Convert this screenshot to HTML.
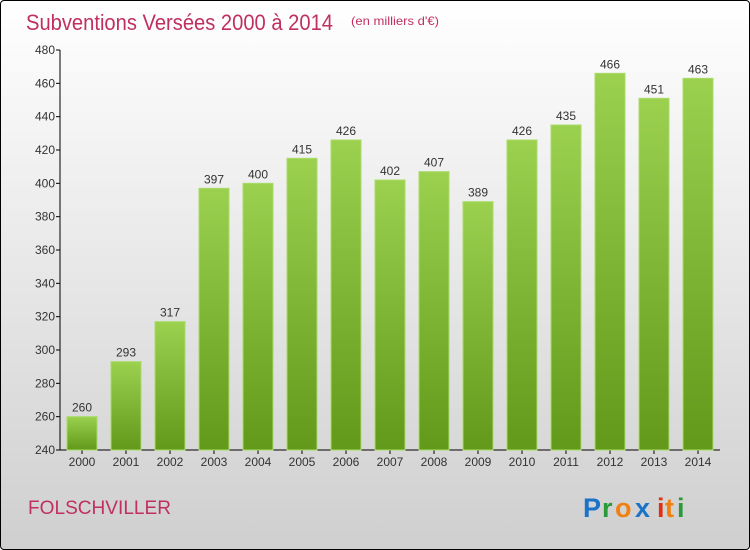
<!DOCTYPE html>
<html><head><meta charset="utf-8"><style>
body{margin:0;width:750px;height:550px;overflow:hidden;font-family:"Liberation Sans",sans-serif}
#c{position:absolute;left:0;top:0;width:748px;height:548px;border:1px solid #000;border-radius:4px;background:linear-gradient(#ffffff,#cfcfcf)}
</style></head><body>
<div id="c"></div>
<svg width="750" height="550" style="position:absolute;left:0;top:0">
<defs><linearGradient id="g" x1="0" y1="0" x2="0" y2="1"><stop offset="0" stop-color="#9bd14f"/><stop offset="1" stop-color="#62991a"/></linearGradient></defs>
<text x="26" y="30" font-size="22" fill="#c0305f" textLength="307" lengthAdjust="spacingAndGlyphs">Subventions Versées 2000 à 2014</text>
<text x="351" y="25" font-size="12" fill="#c0305f" textLength="88" lengthAdjust="spacingAndGlyphs">(en milliers d'€)</text>
<g id="axes"></g><g id="bars"></g>
<text x="28" y="514" font-size="19" fill="#c0305f" textLength="143" lengthAdjust="spacingAndGlyphs">FOLSCHVILLER</text>
<g font-size="27" font-weight="bold">
<text x="583" y="517" fill="#1a73c8">P</text><text x="602" y="517" fill="#2a9a3a">r</text><text x="615" y="517" fill="#f08010">o</text><text x="635" y="517" fill="#1a73c8">x</text><text x="657" y="517" fill="#e03010">i</text><text x="665" y="517" fill="#f08010">t</text><text x="677" y="517" fill="#2a9a3a">i</text></g>
</svg>
<script>
const categories=["2000","2001","2002","2003","2004","2005","2006","2007","2008","2009","2010","2011","2012","2013","2014"];
const values=[260,293,317,397,400,415,426,402,407,389,426,435,466,451,463];
const ticks=[240,260,280,300,320,340,360,380,400,420,440,460,480];
const NS="http://www.w3.org/2000/svg";
const x0=60,x1=720,yb=450,yt=50,vmin=240,vmax=480;
const y=v=>yb-(v-vmin)/(vmax-vmin)*(yb-yt);
const bw=(x1-x0)/categories.length;
const xc=i=>x0+bw*(i+0.5);
function mk(t,a,p,txt){const e=document.createElementNS(NS,t);for(const k in a)e.setAttribute(k,a[k]);if(txt!=null)e.textContent=txt;p.appendChild(e);return e;}
const ax=document.getElementById('axes'),bg=document.getElementById('bars');
let e=mk('line',{x1:x0,y1:yt,x2:x0,y2:yb,stroke:'#000'},ax);


e=mk('line',{x1:x0,y1:yb,x2:x1,y2:yb,stroke:'#000'},ax);


ticks.forEach(t=>{
 mk('line',{x1:x0-4,y1:y(t),x2:x0,y2:y(t),stroke:'#000'},ax);
 const l=mk('text',{x:x0-5,y:y(t)+4,'font-size':12,fill:'#333','text-anchor':'end'},ax,t);
 
 
});
categories.forEach((c,i)=>{
 mk('line',{x1:xc(i),y1:yb,x2:xc(i),y2:yb+4,stroke:'#000'},ax);
 const l=mk('text',{x:xc(i),y:yb+16,'font-size':12,fill:'#333','text-anchor':'middle'},ax,c);
 
 
 const r=mk('rect',{x:xc(i)-15,y:y(values[i]),width:30,height:yb-y(values[i]),fill:'url(#g)',stroke:'#a8dc68','stroke-width':1},bg);
 
 
 const v=mk('text',{x:xc(i),y:y(values[i])-5,'font-size':12,fill:'#333','text-anchor':'middle'},bg,values[i]);
 
 
});
</script>
</body></html>
